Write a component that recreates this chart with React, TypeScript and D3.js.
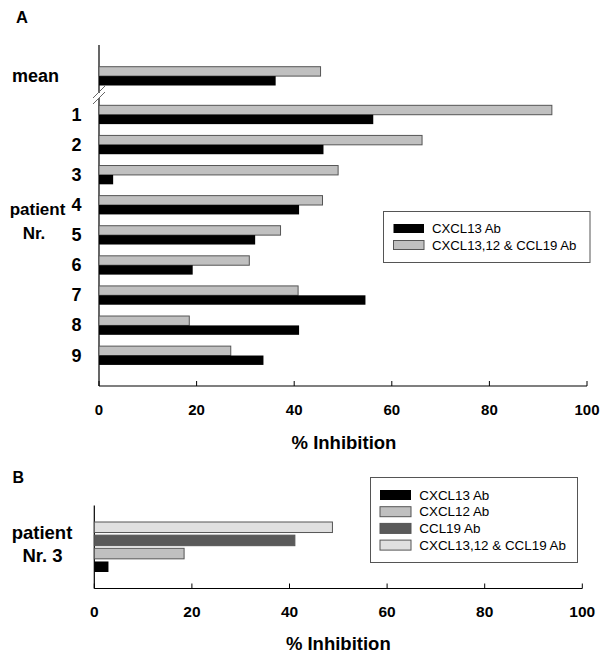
import React from "react";
import * as d3 from "d3";

const patients = ["1", "2", "3", "4", "5", "6", "7", "8", "9"];
const cxcl13A = [56.2, 46.0, 2.9, 41.0, 32.0, 19.2, 54.6, 41.0, 33.7];
const comboA = [92.8, 66.2, 49.0, 45.8, 37.2, 30.8, 40.8, 18.5, 27.0];
const meanCxcl13 = 36.2;
const meanCombo = 45.4;

const seriesB = ["CXCL13,12 & CCL19 Ab", "CCL19 Ab", "CXCL12 Ab", "CXCL13 Ab"];
const valuesB = [48.8, 41.1, 18.4, 2.9];
const colorsB = ["#e0e0e0", "#5a5a5a", "#c0c0c0", "#000000"];
const legendB = ["CXCL13 Ab", "CXCL12 Ab", "CCL19 Ab", "CXCL13,12 & CCL19 Ab"];
const legendBColors = ["#000000", "#c0c0c0", "#5a5a5a", "#e0e0e0"];

const xTicks = [0, 20, 40, 60, 80, 100];

const font = "Arial, 'Liberation Sans', Helvetica, sans-serif";
const EDGE = "#555";

export default function App() {
  const xA = d3.scaleLinear().domain([0, 100]).range([99, 587]);
  const xB = d3.scaleLinear().domain([0, 100]).range([94.3, 582.3]);
  // slot position: mean at 0, patients from 1.283
  const slotY = d3.scaleLinear().domain([0, 1]).range([66.7, 96.8]);
  const pIdx = (i: number) => 1.283 + i;
  const bh = 9.4;

  const yB = d3.scaleBand().domain(seriesB).range([522, 572]).paddingInner(0.2);

  return (
    <svg width={600} height={667} style={{ position: "absolute", left: 0, top: 0 }} fontFamily={font}>
      <rect width={600} height={667} fill="#fff" />
      {/* Panel A */}
      <text x={16} y={22.7} fontSize={16.5} fontWeight="bold">A</text>
      {/* axis line with break */}
      <line x1={xA(0)} x2={xA(0)} y1={45} y2={93} stroke="#000" strokeWidth={1.2} />
      <line x1={xA(0)} x2={xA(0)} y1={98} y2={386} stroke="#000" strokeWidth={1.2} />
      <line x1={93} y1={98} x2={105} y2={86} stroke="#666" strokeWidth={1} />
      <line x1={93} y1={104} x2={105} y2={92} stroke="#666" strokeWidth={1} />
      {/* x axis */}
      <line x1={xA(0)} x2={xA(100)} y1={386} y2={386} stroke="#000" strokeWidth={1.2} />
      {xTicks.map((t) => (
        <g key={"ta" + t}>
          <line x1={xA(t)} x2={xA(t)} y1={386} y2={381} stroke="#000" />
          <text x={xA(t)} y={414.5} fontSize={15} fontWeight="bold" textAnchor="middle">{t}</text>
        </g>
      ))}
      <text x={344} y={449} fontSize={18.5} fontWeight="bold" textAnchor="middle">% Inhibition</text>
      {/* mean bars */}
      <rect x={xA(0)} y={slotY(0)} width={xA(meanCombo) - xA(0)} height={bh} fill="#c0c0c0" stroke={EDGE} strokeWidth={1} />
      <rect x={xA(0)} y={slotY(0) + bh} width={xA(meanCxcl13) - xA(0)} height={bh} fill="#000" />
      <text x={59} y={81.7} fontSize={18} fontWeight="bold" textAnchor="end">mean</text>
      {patients.map((p, i) => {
        const y0 = slotY(pIdx(i));
        return (
          <g key={p}>
            <rect x={xA(0)} y={y0} width={xA(comboA[i]) - xA(0)} height={bh} fill="#c0c0c0" stroke={EDGE} strokeWidth={1} />
            <rect x={xA(0)} y={y0 + bh} width={xA(cxcl13A[i]) - xA(0)} height={bh} fill="#000" />
            <text x={81.5} y={y0 + 15.4} fontSize={18} fontWeight="bold" textAnchor="end">{p}</text>
          </g>
        );
      })}
      <text x={37.5} y={215} fontSize={17} fontWeight="bold" textAnchor="middle">patient</text>
      <text x={34} y={239.3} fontSize={17} fontWeight="bold" textAnchor="middle">Nr.</text>
      {/* legend A */}
      <rect x={383.5} y={211.5} width={206.5} height={51} fill="#fff" stroke="#555" strokeWidth={1} />
      <rect x={393.5} y={224} width={30.5} height={9} fill="#000" />
      <text x={432} y={233.3} fontSize={13.2}>CXCL13 Ab</text>
      <rect x={393.5} y={240.5} width={30.5} height={9} fill="#c0c0c0" stroke={EDGE} strokeWidth={1} />
      <text x={432} y={250} fontSize={13.2}>CXCL13,12 &amp; CCL19 Ab</text>

      {/* Panel B */}
      <text x={12.5} y={482.7} fontSize={16} fontWeight="bold">B</text>
      <line x1={xB(0)} x2={xB(0)} y1={505.5} y2={588.5} stroke="#000" strokeWidth={1.2} />
      <line x1={xB(0)} x2={xB(100)} y1={588.5} y2={588.5} stroke="#000" strokeWidth={1.2} />
      {xTicks.map((t) => (
        <g key={"tb" + t}>
          <line x1={xB(t)} x2={xB(t)} y1={588.5} y2={583.5} stroke="#000" />
          <text x={xB(t)} y={617} fontSize={15.5} fontWeight="bold" textAnchor="middle">{t}</text>
        </g>
      ))}
      <text x={338.3} y={650} fontSize={18.5} fontWeight="bold" textAnchor="middle">% Inhibition</text>
      {seriesB.map((s, i) => (
        <rect key={s} x={xB(0)} y={yB(s)} width={xB(valuesB[i]) - xB(0)} height={yB.bandwidth()} fill={colorsB[i]} stroke={i === 3 ? "none" : EDGE} strokeWidth={1} />
      ))}
      <text x={42} y={539.3} fontSize={18.5} fontWeight="bold" textAnchor="middle">patient</text>
      <text x={42.5} y={561.7} fontSize={18.5} fontWeight="bold" textAnchor="middle">Nr. 3</text>
      {/* legend B */}
      <rect x={370.5} y={477.5} width={207} height={85} fill="#fff" stroke="#555" strokeWidth={1} />
      {legendB.map((l, i) => (
        <g key={l}>
          <rect x={380} y={490 + i * 16.7} width={31} height={10} fill={legendBColors[i]} stroke={i === 0 ? "none" : EDGE} strokeWidth={1} />
          <text x={419.3} y={499.5 + i * 16.7} fontSize={13.4}>{l}</text>
        </g>
      ))}
    </svg>
  );
}
